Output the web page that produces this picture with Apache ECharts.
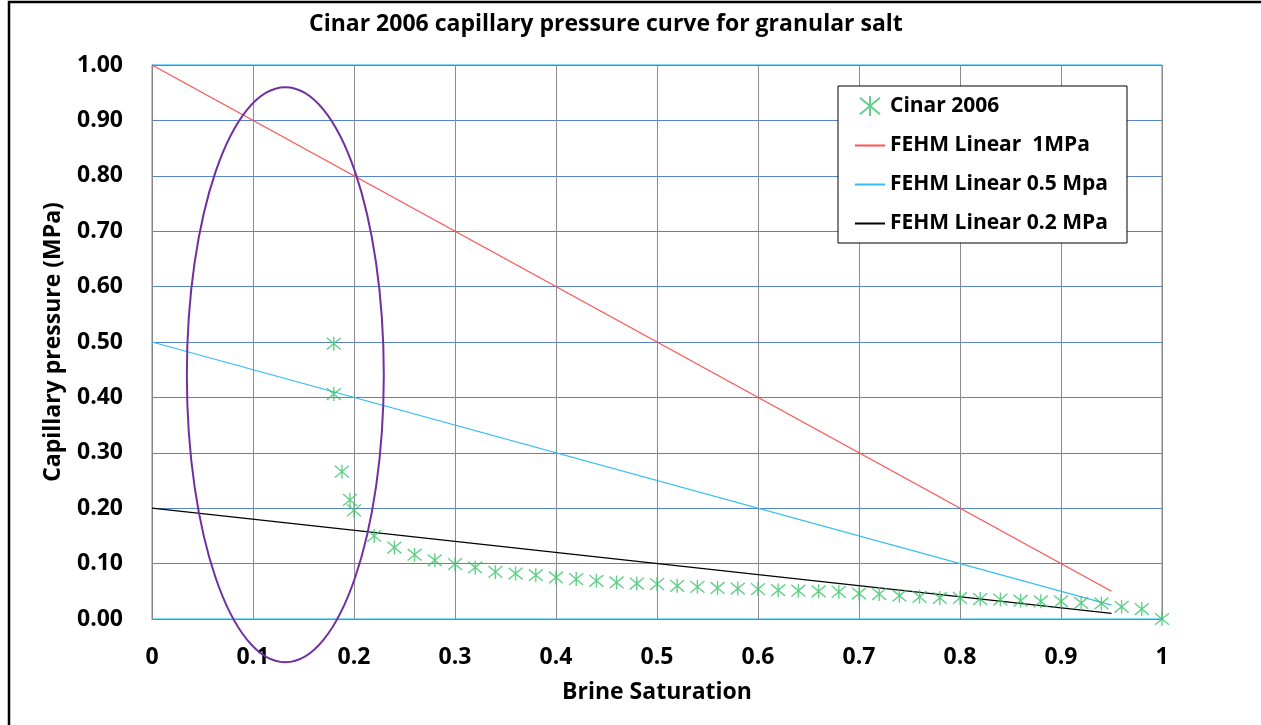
<!DOCTYPE html>
<html><head><meta charset="utf-8">
<script src="https://cdn.jsdelivr.net/npm/echarts@6/dist/echarts.min.js"></script>
<style>html,body{margin:0;padding:0;background:#fff}#c{width:1261px;height:725px}</style>
</head><body><div id="c"></div>
<script>
// Cinar 2006 measured points (brine saturation, capillary pressure MPa)
const cinarSat = [0.18,0.18,0.188,0.196,0.20,0.22,0.24,0.26,0.28,0.30,0.32,0.34,0.36,0.38,0.40,0.42,0.44,0.46,0.48,0.50,0.52,0.54,0.56,0.58,0.60,0.62,0.64,0.66,0.68,0.70,0.72,0.74,0.76,0.78,0.80,0.82,0.84,0.86,0.88,0.90,0.92,0.94,0.96,0.98,1.00];
const cinarPc  = [0.497,0.406,0.266,0.215,0.196,0.150,0.129,0.116,0.106,0.099,0.093,0.085,0.082,0.079,0.075,0.072,0.069,0.066,0.064,0.063,0.060,0.058,0.056,0.055,0.054,0.052,0.051,0.050,0.049,0.046,0.045,0.042,0.040,0.038,0.038,0.036,0.035,0.033,0.032,0.032,0.029,0.028,0.022,0.018,0.000];
// FEHM linear curves (endpoints)
const fehm1Sat  = [0, 0.95]; const fehm1Pc  = [1.00, 0.05];
const fehm05Sat = [0, 0.95]; const fehm05Pc = [0.50, 0.025];
const fehm02Sat = [0, 0.95]; const fehm02Pc = [0.20, 0.01];
// highlight ellipse (data units)
const ellCx = 0.132, ellCy = 0.441, ellRx = 0.0975, ellRy = 0.519;

const seriesNames = ['Cinar 2006','FEHM Linear  1MPa','FEHM Linear 0.5 Mpa','FEHM Linear 0.2 MPa'];
const zip = (a,b)=>a.map((v,i)=>[v,b[i]]);
const FONT = '"Open Sans", "Liberation Sans", sans-serif';
const star = 'path://M0,1L12,11M12,1L0,11M6,0L6,12';
const hideSym = {color:'rgba(0,0,0,0)', borderColor:'rgba(0,0,0,0)', borderWidth:0, opacity:0};

const chart = echarts.init(document.getElementById('c'), null, {renderer:'canvas'});
chart.setOption({
  animation:false,
  backgroundColor:'#fff',
  title:{ text:'Cinar 2006 capillary pressure curve for granular salt', left:304, top:8,
    textStyle:{fontFamily:FONT, fontSize:23, fontWeight:'bold', color:'#000'} },
  grid:{ left:152, right:99, top:65, bottom:106, show:true, borderColor:'#00B0F0', borderWidth:1 },
  legend:{ orient:'vertical', left:838, top:86,
    padding:[9,19,9,16], itemGap:18, itemWidth:30, itemHeight:20,
    borderColor:'#000', borderWidth:1, backgroundColor:'#fff',
    textStyle:{fontFamily:FONT, fontSize:21, fontWeight:'bold', color:'#000', lineHeight:20},
    data:[{name:seriesNames[0], icon:star},
          {name:seriesNames[1], itemStyle:hideSym},
          {name:seriesNames[2], itemStyle:hideSym},
          {name:seriesNames[3], itemStyle:hideSym}] },
  xAxis:{ type:'value', min:0, max:1, interval:0.1,
    name:'Brine Saturation', nameLocation:'middle', nameGap:62,
    nameTextStyle:{fontFamily:FONT, fontSize:23, fontWeight:'bold', color:'#000'},
    axisLine:{lineStyle:{color:'#868686'}}, axisTick:{show:false},
    axisLabel:{margin:27, fontFamily:FONT, fontSize:23, fontWeight:'bold', color:'#000',
      formatter:v=>String(Math.round(v*10)/10)},
    splitLine:{show:true, lineStyle:{color:'#8C8C8C', width:1}} },
  yAxis:{ type:'value', min:0, max:1, interval:0.1,
    name:'Capillary pressure (MPa)', nameLocation:'middle', nameGap:87,
    nameTextStyle:{fontFamily:FONT, fontSize:23, fontWeight:'bold', color:'#000'},
    axisLine:{show:true, lineStyle:{color:'#868686'}}, axisTick:{show:false},
    axisLabel:{margin:29, fontFamily:FONT, fontSize:23, fontWeight:'bold', color:'#000',
      formatter:v=>v.toFixed(2)},
    splitLine:{show:true, lineStyle:{color:'#5585C8', width:1}} },
  series:[
    { name:seriesNames[0], type:'scatter', data:zip(cinarSat,cinarPc), symbol:star, symbolSize:14, z:5,
      itemStyle:{color:'#3CC46C', borderColor:'#3CC46C', borderWidth:1.4} },
    { name:seriesNames[1], type:'line', data:zip(fehm1Sat,fehm1Pc), symbol:'none',
      lineStyle:{color:'#FF5050', width:1.2}, itemStyle:{color:'#FF5050'} },
    { name:seriesNames[2], type:'line', data:zip(fehm05Sat,fehm05Pc), symbol:'none',
      lineStyle:{color:'#33BDF2', width:1.2}, itemStyle:{color:'#33BDF2'} },
    { name:seriesNames[3], type:'line', data:zip(fehm02Sat,fehm02Pc), symbol:'none',
      lineStyle:{color:'#000', width:1.2}, itemStyle:{color:'#000'} }
  ]
});
const c = chart.convertToPixel({gridIndex:0},[ellCx,ellCy]);
const rx = chart.convertToPixel({gridIndex:0},[ellCx+ellRx,ellCy])[0]-c[0];
const ry = c[1]-chart.convertToPixel({gridIndex:0},[ellCx,ellCy+ellRy])[1];
chart.setOption({graphic:[
  {type:'ellipse', shape:{cx:c[0], cy:c[1], rx:rx, ry:ry}, style:{fill:null, stroke:'#7030A0', lineWidth:2}, z:100},
  {type:'rect', shape:{x:9, y:2, width:1300, height:800}, style:{fill:null, stroke:'#000', lineWidth:2.5}, z:100}
]});
</script></body></html>
